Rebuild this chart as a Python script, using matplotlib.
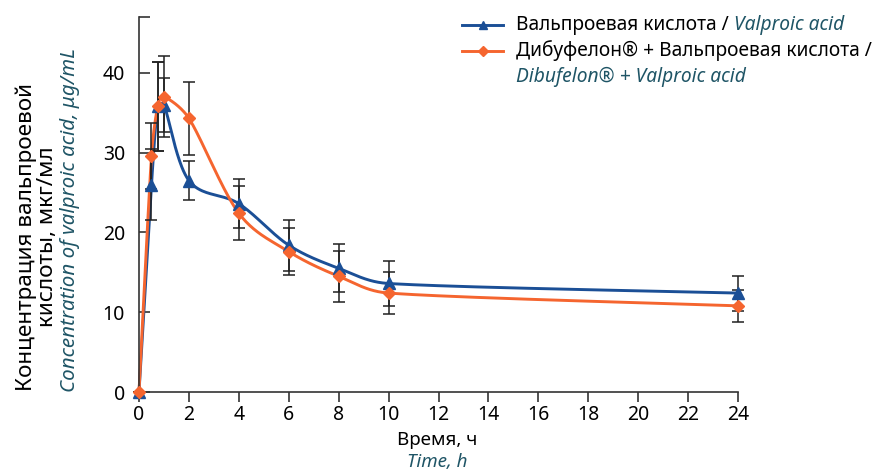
import numpy as np
import matplotlib.pyplot as plt

plt.rcParams['font.family'] = ['Noto Sans', 'DejaVu Sans']

# time points, h
time = [0, 0.5, 0.75, 1, 2, 4, 6, 8, 10, 24]
# valproic acid alone
vpa = [0, 26.0, 35.8, 36.0, 26.5, 23.6, 18.4, 15.5, 13.6, 12.4]
vpa_err = [0, 4.5, 5.6, 3.4, 2.4, 3.1, 3.2, 3.0, 2.8, 2.2]
# dibufelon + valproic acid
dib = [0, 29.6, 35.8, 37.0, 34.3, 22.4, 17.6, 14.5, 12.4, 10.8]
dib_err = [0, 4.1, 5.6, 5.1, 4.6, 3.4, 2.9, 3.2, 2.6, 2.0]

x_ticks = list(range(0, 25, 2))
y_ticks = [0, 10, 20, 30, 40]

BLUE = '#1b4f96'
ORANGE = '#f5652f'
TEAL = '#1f5566'


def excel_smooth(x, y, sx=25.0, sy=8.0, n=40):
    # bezier smoothing like spreadsheet charts, done in screen-like units,
    # control arms clipped so long segments don't loop back
    px = np.asarray(x, float) * sx
    py = np.asarray(y, float) * sy
    pts = np.column_stack([px, py])
    out = []
    for i in range(len(pts) - 1):
        p0 = pts[i - 1] if i > 0 else pts[i]
        p1, p2 = pts[i], pts[i + 1]
        p3 = pts[i + 2] if i + 2 < len(pts) else pts[i + 1]
        seg_len = np.hypot(*(p2 - p1))
        a1 = (p2 - p0) / 6
        a2 = (p3 - p1) / 6
        lim = 0.4 * seg_len
        if np.hypot(*a1) > lim:
            a1 = a1 / np.hypot(*a1) * lim
        if np.hypot(*a2) > lim:
            a2 = a2 / np.hypot(*a2) * lim
        c1 = p1 + a1
        c2 = p2 - a2
        t = np.linspace(0, 1, n)[:, None]
        seg = (1 - t) ** 3 * p1 + 3 * (1 - t) ** 2 * t * c1 + 3 * (1 - t) * t ** 2 * c2 + t ** 3 * p2
        out.append(seg if i == 0 else seg[1:])
    out = np.vstack(out)
    return out[:, 0] / sx, out[:, 1] / sy


fig = plt.figure(figsize=(8.72, 4.72), dpi=100)
ax = fig.add_axes([139 / 872, 1 - 392 / 472, (738 - 139) / 872, (392 - 17) / 472])

for y, err, c, m, ms in [(vpa, vpa_err, BLUE, '^', 8), (dib, dib_err, ORANGE, 'D', 6)]:
    sx, sy = excel_smooth(time, y)
    ax.plot(sx, sy, color=c, lw=2.1, zorder=2, clip_on=False)
    ax.errorbar(time, y, yerr=err, fmt='none', ecolor='#202020', elinewidth=1.1,
                capsize=4, capthick=1.1, zorder=3, clip_on=False)
    ax.plot(time, y, ls='none', marker=m, ms=ms, color=c, zorder=4, clip_on=False)

ax.set_xlim(0, 24)
ax.set_ylim(0, 47)
ax.set_xticks(x_ticks)
ax.set_yticks(y_ticks + [47], labels=[str(v) for v in y_ticks] + [''])
ax.tick_params(axis='x', direction='out', length=7, width=1.2, colors='#333333',
               labelcolor='black', labelsize=14, pad=2)
ax.tick_params(axis='y', direction='in', length=8, width=1.2, colors='#333333',
               labelcolor='black', labelsize=14, pad=10)
for s in ['top', 'right']:
    ax.spines[s].set_visible(False)
for s in ['left', 'bottom']:
    ax.spines[s].set_color('#333333')
    ax.spines[s].set_linewidth(1.2)

# axis titles
fig.text(437 / 872, 1 - 440 / 472, 'Время, ч', ha='center', va='center', fontsize=13.5)
fig.text(437 / 872, 1 - 462 / 472, 'Time, h', ha='center', va='center', fontsize=13.5,
         style='italic', color=TEAL)
fig.text(37 / 872, 1 - 391 / 472, 'Концентрация вальпроевой\nкислоты, мкг/мл', rotation=90,
         ha='center', va='bottom', fontsize=16.2, multialignment='center', linespacing=1.0)
fig.text(70 / 872, 1 - 392 / 472, 'Concentration of valproic acid, μg/mL', rotation=90,
         ha='center', va='bottom', fontsize=14.8, style='italic', color=TEAL)

# legend drawn by hand (mixed upright / italic labels)
rows = [(25, BLUE, '^', 8, 'Вальпроевая кислота / ', 'Valproic acid', None),
        (51, ORANGE, 'D', 6, 'Дибуфелон® + Вальпроевая кислота /', None, 'Dibufelon® + Valproic acid')]
for yp, c, m, ms, txt, ital, ital2 in rows:
    yf = 1 - yp / 472
    fig.add_artist(plt.Line2D([462 / 872, 503 / 872], [yf, yf], color=c, lw=2.1))
    fig.add_artist(plt.Line2D([482.5 / 872], [yf], color=c, marker=m, ms=ms * 0.8, ls='none'))
    t1 = fig.text(516 / 872, yf, txt, ha='left', va='center', fontsize=13.8)
    if ital:
        ax.annotate(ital, xy=(1, 0.5), xycoords=t1, ha='left', va='center', fontsize=13.8,
                    style='italic', color=TEAL, annotation_clip=False)
    if ital2:
        fig.text(516 / 872, 1 - (yp + 26) / 472, ital2, ha='left', va='center', fontsize=13.8,
                 style='italic', color=TEAL)

fig.savefig('out.png', dpi=100)
